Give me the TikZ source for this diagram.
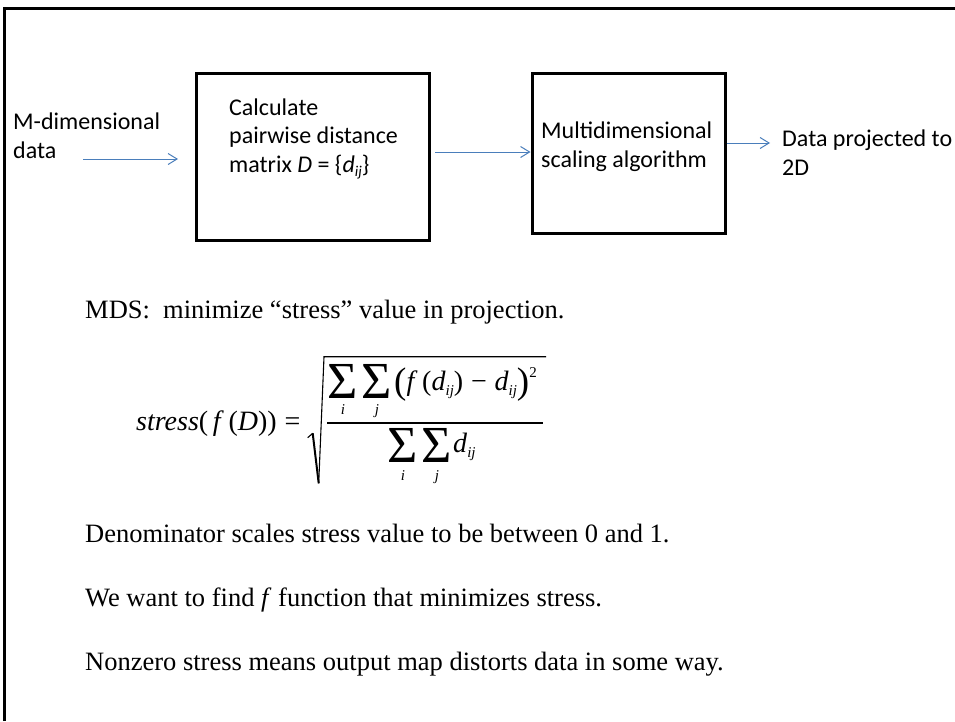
\documentclass[tikz,border=0pt]{standalone}
\usepackage{fontspec}
\setmainfont{Liberation Serif}
\newfontfamily\calib{Carlito}
\usetikzlibrary{arrows.meta}
\definecolor{arrblue}{RGB}{74,126,187}
\newcommand\fsub[1]{\raisebox{-5pt}{\fontsize{15}{15}\selectfont\itshape #1}}
\newcommand\fbig[1]{\raisebox{-3.5pt}{\fontsize{37}{37}\selectfont #1}}
\begin{document}
\begin{tikzpicture}[x=1pt,y=-1pt,
  boxnode/.style={draw,line width=3pt,inner sep=0pt,anchor=north west},
  lbl/.style={font=\calib\fontsize{24}{28.5}\selectfont,align=left,inner sep=0pt,anchor=base west},
  body/.style={font=\fontsize{26.5}{33}\selectfont,inner sep=0pt,anchor=base west},
  fm/.style={font=\fontsize{28}{30}\selectfont,inner sep=0pt,anchor=base west},
  sig/.style={font=\fontsize{52}{52}\selectfont,inner sep=0pt,anchor=center},
  lim/.style={font=\fontsize{15}{15}\selectfont\itshape,inner sep=0pt,anchor=base},
  flow/.style={draw=arrblue,line width=1pt,-{Straight Barb[length=9pt,width=11pt,line width=1pt]}}
]
\useasboundingbox (0,0) rectangle (955,721);
\fill[white] (0,0) rectangle (955,721);
% frame
\draw[line width=2.5pt] (4.5,721) -- (4.5,8.5) -- (955,8.5);
% boxes
\node[boxnode,minimum width=233pt,minimum height=167pt] (b1) at (194.5,71.5) {};
\node[boxnode,minimum width=193pt,minimum height=160pt] (b2) at (530.5,71.5) {};
% labels (base = last line)
\node[lbl] (inlbl) at (13,158) {M-dimensional\\data};
\node[lbl] (t1) at (229,172) {Calculate\\pairwise distance\\matrix \textit{D} = \{\textit{d}\raisebox{-0.35ex}{\fontsize{15}{15}\selectfont\itshape ij}\}};
\node[lbl] (t2) at (541,167) {Multidimensional\\scaling algorithm};
\node[lbl] (outlbl) at (782,175) {Data projected to\\2D};
% connectors
\coordinate (a1s) at (83,159);
\coordinate (a1e) at (178,159);
\coordinate (a2s) at (435,152);
\coordinate (a3e) at (770,143);
\draw[flow] (a1s) -- (a1e);
\draw[flow] (a2s) -- (a2s -| b2.west);
\draw[flow] (a3e -| b2.east) -- (a3e);
% body text
\node[body] (l1) at (85,318) {MDS:\ \ minimize “stress” value in projection.};
% formula
\node[fm] (lhs) at (136,430) {\textit{stress}(\,\textit{f}\,(\textit{D}))\;=};
\node[sig] (ns1) at (343,381.5) {Σ};
\node[sig] (ns2) at (377,381.5) {Σ};
\node[lim] (ni) at (343,414) {i};
\node[lim] (nj) at (377,414) {j};
\node[fm] (num) at (394,390) {\fbig{(}\textit{f}\,(\textit{d}\fsub{ij})\;−\;\textit{d}\fsub{ij}\fbig{)}\raisebox{13pt}{\fontsize{15}{15}\selectfont 2}};
\node[sig] (ds1) at (403,445.5) {Σ};
\node[sig] (ds2) at (437,445.5) {Σ};
\node[lim] (di) at (403,480) {i};
\node[lim] (dj) at (437,480) {j};
\node[fm] (den) at (453,452) {\textit{d}\fsub{ij}};
\draw[line width=1.2pt] (327,423) -- (543,423);
\draw[line width=1.1pt,line join=round] (307.7,437.7) -- (312.7,433.3);
\draw[line width=2pt] (312.7,433.3) -- (318.7,483.3);
\draw[line width=1.1pt] (318.7,483.3) -- (324,356.7) -- (546,356.7);
\node[body] (l2) at (85,542) {Denominator scales stress value to be between 0 and 1.};
\node[body] (l3) at (85,606) {We want to find \textit{f} function that minimizes stress.};
\node[body] (l4) at (85,670) {Nonzero stress means output map distorts data in some way.};
\end{tikzpicture}
\end{document}
